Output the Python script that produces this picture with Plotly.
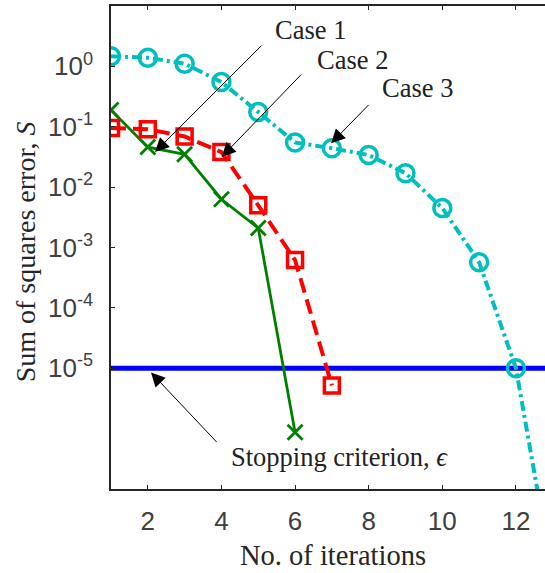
import plotly.graph_objects as go

# Sum of squares error per iteration for the three cases
iters_case1 = [1, 2, 3, 4, 5, 6]
sse_case1 = [0.19, 0.046, 0.035, 0.0063, 0.0021, 8.7e-7]

iters_case2 = [1, 2, 3, 4, 5, 6, 7]
sse_case2 = [0.095, 0.091, 0.069, 0.038, 0.005, 6.2e-4, 5.2e-6]

iters_case3 = [1, 2, 3, 4, 5, 6, 7, 8, 9, 10, 11, 12, 13]
sse_case3 = [1.47, 1.39, 1.11, 0.55, 0.175, 0.055, 0.044, 0.034, 0.017,
             0.0045, 5.7e-4, 1.0e-5, 3.5e-9]

stop_eps = 1e-5

x_ticks = [2, 4, 6, 8, 10, 12]
y_ticks = [1e-5, 1e-4, 1e-3, 1e-2, 1e-1, 1e0]
y_tick_labels = ["10<sup>-5</sup>", "10<sup>-4</sup>", "10<sup>-3</sup>",
                 "10<sup>-2</sup>", "10<sup>-1</sup>", "10<sup>0</sup>"]

CYAN = "rgb(0,191,191)"
RED = "rgb(255,0,0)"
GREEN = "rgb(0,128,0)"
BLUE = "rgb(0,0,255)"
AXIS = "#262626"
TICKC = "#404040"
SERIF = "Liberation Serif"
SANS = "Liberation Sans"

fig = go.Figure()

fig.add_hline(y=stop_eps, line=dict(color=BLUE, width=5), layer="below")

fig.add_trace(go.Scatter(
    x=iters_case1, y=sse_case1, mode="lines+markers",
    line=dict(color=GREEN, width=2.8),
    marker=dict(symbol="x-thin-open", size=15, color=GREEN,
                line=dict(color=GREEN, width=2.8)),
    showlegend=False))

fig.add_trace(go.Scatter(
    x=iters_case2, y=sse_case2, mode="lines+markers",
    line=dict(color=RED, width=4, dash="15px,7px"),
    marker=dict(symbol="square-open", size=15, color=RED,
                line=dict(color=RED, width=3.5)),
    showlegend=False))

fig.add_trace(go.Scatter(
    x=iters_case3, y=sse_case3, mode="lines+markers",
    line=dict(color=CYAN, width=4, dash="10px,4px,3px,4px"),
    marker=dict(symbol="circle-open", size=17, color=CYAN,
                line=dict(color=CYAN, width=3.5)),
    showlegend=False))

# Arrows: (tip x, tip log10 y, tail offset ax, ay)
arrows = [
    (2.196, -1.419, 108, -108),
    (4.008, -1.50, 81, -84),
    (6.98, -1.275, 39, -40),
    (2.087, -5.07, 67, 71),
]
for x, ly, ax, ay in arrows:
    fig.add_annotation(x=x, y=ly, xref="x", yref="y", text="",
                       showarrow=True, arrowhead=2, arrowsize=2.8,
                       arrowwidth=1, arrowcolor="black", ax=ax, ay=ay)

labels = [
    ("Case 1", 6.43, 0.596),
    ("Case 2", 7.55, 0.10),
    ("Case 3", 9.32, -0.364),
    ("Stopping criterion, <i>ϵ</i>", 7.2, -6.47),
]
for txt, x, ly in labels:
    fig.add_annotation(x=x, y=ly, xref="x", yref="y", text=txt,
                       showarrow=False, xanchor="center", yanchor="middle",
                       font=dict(family=SERIF, size=26.5, color="#222222"))

# Axis titles
fig.add_annotation(x=-86 / 434, y=0.49, xref="paper", yref="paper",
                   text="Sum of squares error, <i>S</i>", textangle=-90,
                   showarrow=False, xanchor="center", yanchor="middle",
                   font=dict(family=SERIF, size=28, color=AXIS))
fig.add_annotation(x=0.5 + (333 - 328) / 434, y=-66 / 483, xref="paper",
                   yref="paper", text="No. of iterations", showarrow=False,
                   xanchor="center", yanchor="middle",
                   font=dict(family=SERIF, size=28.5, color=AXIS))

fig.update_layout(
    width=545, height=573,
    margin=dict(l=111, r=0, t=6, b=84),
    paper_bgcolor="white", plot_bgcolor="white",
    xaxis=dict(range=[1, 12.79], tickvals=x_ticks, ticks="inside",
               ticklen=4, tickwidth=1, tickcolor=AXIS,
               showline=True, linecolor=AXIS, linewidth=1.5, mirror="ticks",
               showgrid=False, zeroline=False,
               tickfont=dict(family=SANS, size=26, color=TICKC),
               ticklabelstandoff=8),
    yaxis=dict(type="log", range=[-7, 1], tickvals=y_ticks,
               ticktext=y_tick_labels, ticks="inside", ticklen=4,
               tickwidth=1, tickcolor=AXIS,
               showline=True, linecolor=AXIS, linewidth=1.5, mirror=False,
               showgrid=False, zeroline=False,
               tickfont=dict(family=SANS, size=26, color=TICKC),
               ticklabelstandoff=11),
)

fig.write_html("out.html")
